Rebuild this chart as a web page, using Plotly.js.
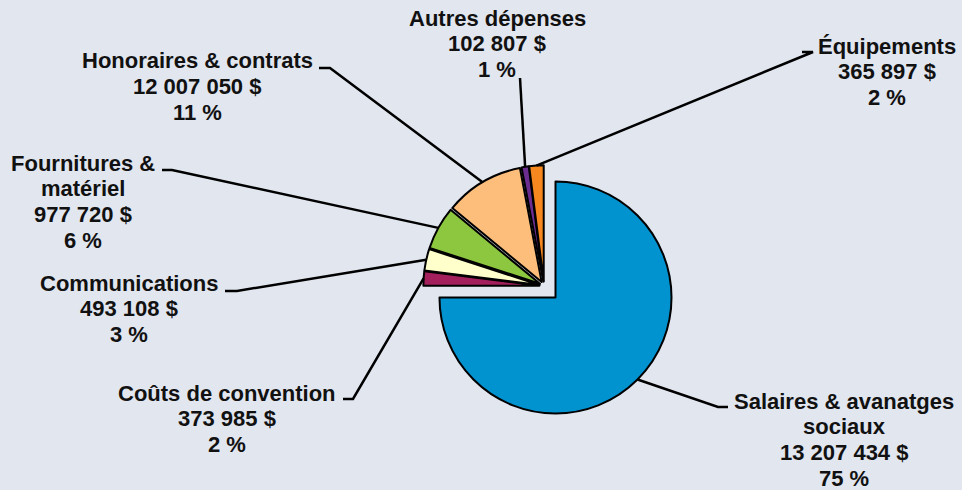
<!DOCTYPE html>
<html><head><meta charset="utf-8">
<script src="https://cdn.plot.ly/plotly-3.0.1.min.js"></script>
<style>html,body{margin:0;padding:0;background:#e1e6ef}</style>
</head><body><div id="chart" style="width:962px;height:490px"></div>
<script>
// ---- data ----
const categories = ["Salaires & avanatges sociaux", "Coûts de convention", "Communications", "Fournitures & matériel", "Honoraires & contrats", "Autres dépenses", "Équipements"];
const labelLines = [["Salaires & avanatges", "sociaux"], ["Coûts de convention"], ["Communications"], ["Fournitures &", "matériel"], ["Honoraires & contrats"], ["Autres dépenses"], ["Équipements"]];
const amounts = ["13 207 434 $", "373 985 $", "493 108 $", "977 720 $", "12 007 050 $", "102 807 $", "365 897 $"];
const percents = [75, 2, 3, 6, 11, 1, 2];

// ---- styling / placement ----
const colors = ["#0093d0", "#a3205c", "#ffffcc", "#8dc63f", "#fdbe7b", "#6b2d90", "#f7881f"];
const pulls = [0.14, 0.04, 0.04, 0.04, 0.04, 0.04, 0.04];
const W = 962, H = 490;
const place = [
  {cx: 844, y0: 401, elbow: [718, 407], end: [728, 407]},
  {cx: 227, y0: 393, elbow: [353, 399], end: [343, 399]},
  {cx: 129, y0: 283, elbow: [237, 291], end: [225, 291]},
  {cx: 83,  y0: 163, elbow: [172, 170], end: [162, 170]},
  {cx: 197, y0: 61,  elbow: [330, 68],  end: [319, 68]},
  {cx: 497, y0: 18,  elbow: [520, 78],  end: [520, 78]},
  {cx: 887, y0: 46,  elbow: [813, 52],  end: [802, 52]}
];
const LS = 25.8;
const px2x = v => v / W;
const px2y = v => 1 - v / H;

const annotations = [];
categories.forEach((c, i) => {
  const lines = labelLines[i].concat([amounts[i], percents[i] + " %"]);
  lines.forEach((t, k) => {
    annotations.push({
      text: t, showarrow: false, xref: "paper", yref: "paper",
      x: px2x(place[i].cx), y: px2y(place[i].y0 + k * LS),
      xanchor: "center", yanchor: "middle",
      font: {family: "Liberation Sans, Arial, sans-serif", size: 22, color: "#111111", weight: "bold"}
    });
  });
});

const trace = {
  type: "pie",
  labels: categories,
  values: percents,
  sort: false,
  direction: "clockwise",
  rotation: 0,
  pull: pulls,
  marker: {colors: colors, line: {color: "#000000", width: 2}},
  textinfo: "none",
  hoverinfo: "none",
  showlegend: false,
  domain: {x: [0.4280, 0.7030], y: [0.1464, 0.6862]}
};

const layout = {
  width: W, height: H,
  margin: {l: 0, r: 0, t: 0, b: 0},
  paper_bgcolor: "#e1e6ef",
  plot_bgcolor: "#e1e6ef",
  showlegend: false,
  annotations: annotations
};

const gd = document.getElementById("chart");
Plotly.newPlot(gd, [trace], layout, {staticPlot: true}).then(() => {
  const cd = gd.calcdata[0];
  const cd0 = cd[0];
  const shapes = [];
  cd.forEach(pt => {
    const i = pt.i;
    const p = pulls[i];
    const sx = cd0.cx + (1 + p) * pt.pxmid[0];
    const sy = cd0.cy + (1 + p) * pt.pxmid[1];
    const e = place[i].elbow, f = place[i].end;
    const path = "M" + px2x(sx) + "," + px2y(sy) + " L" + px2x(e[0]) + "," + px2y(e[1]) + " L" + px2x(f[0]) + "," + px2y(f[1]);
    shapes.push({type: "path", xref: "paper", yref: "paper", path: path, line: {color: "#000000", width: 2.5}});
  });
  return Plotly.relayout(gd, {shapes: shapes});
});
</script>
</body></html>
